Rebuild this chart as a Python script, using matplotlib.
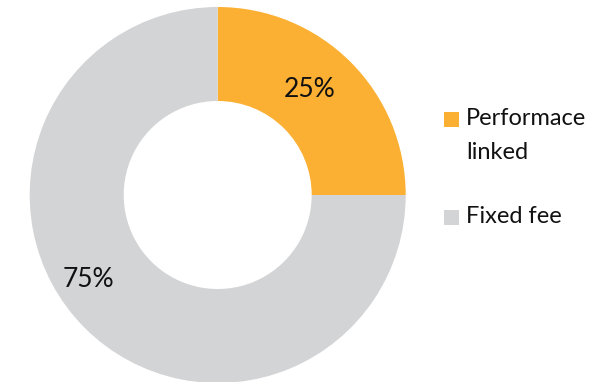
import matplotlib
matplotlib.use("Agg")
import matplotlib.pyplot as plt
from matplotlib.patches import Rectangle

# data
categories = ["Performace\nlinked", "Fixed fee"]
shares = [25, 75]
colors = ["#FBB034", "#D3D4D6"]

plt.rcParams["font.family"] = ["Lato", "DejaVu Sans"]

W, H = 612, 382
fig = plt.figure(figsize=(W / 100, H / 100), dpi=100)

# donut: centre (218, 195) px from top-left, radius 188 px
cx, cy, r = 217.7, 195.0, 188.0
ax = fig.add_axes([(cx - r) / W, (H - cy - r) / H, 2 * r / W, 2 * r / H])
ax.pie(shares, colors=colors, startangle=90, counterclock=False, radius=1,
       wedgeprops=dict(width=0.5, linewidth=0))
ax.set_xlim(-1, 1); ax.set_ylim(-1, 1)
ax.set_aspect("equal")
ax.axis("off")

# percent labels (Excel-like placement)
label_pos = [(0.49, 0.56), (-0.685, -0.45)]
for v, (lx, ly) in zip(shares, label_pos):
    ax.text(lx, ly, f"{v}%", ha="center", va="center", fontsize=19, color="#111111")

# legend drawn by hand so the swatch sits on the first text line
swatch_y = [119, 217]  # px, swatch centre from top
sw = 15
for lab, col, yc in zip(categories, colors, swatch_y):
    fig.patches.append(Rectangle((444 / W, (H - yc - sw / 2) / H), sw / W, sw / H,
                                 transform=fig.transFigure, color=col, lw=0))
    fig.text(466 / W, (H - yc + 11) / H, lab, ha="left", va="top", fontsize=17,
             color="#111111", linespacing=1.75)

fig.savefig("out.png", dpi=100)
